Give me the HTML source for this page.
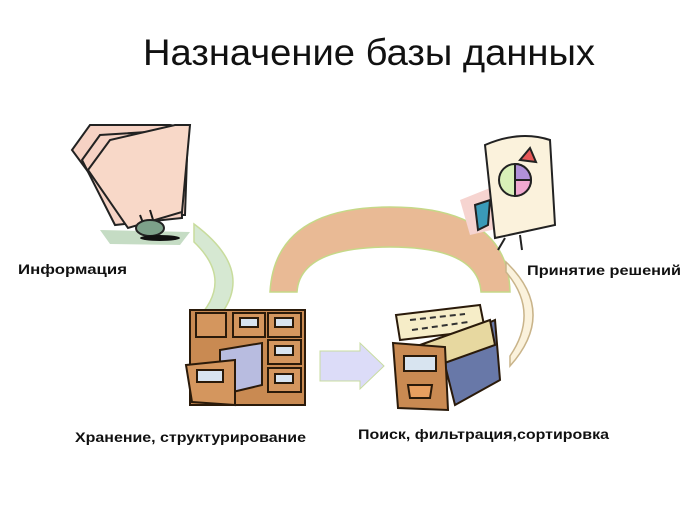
<!DOCTYPE html>
<html><head><meta charset="utf-8"><style>
body{margin:0;background:#fff;width:688px;height:516px;overflow:hidden}
svg{display:block}
text{font-family:"Liberation Sans","DejaVu Sans",sans-serif}
</style></head><body>
<svg width="688" height="516" viewBox="0 0 688 516">
<text x="369" y="65" font-size="37" text-anchor="middle" fill="#111" textLength="452" lengthAdjust="spacingAndGlyphs">Назначение базы данных</text>

<!-- folder clipart -->
<polygon points="100,230 190,232 180,245 110,244" fill="#c5dcc4"/>
<g stroke="#222" stroke-width="2">
<polygon points="72,150 90,125 170,125 188,128 185,215 120,215" fill="#f6d2c4"/>
<polygon points="82,160 100,135 180,130 182,218 115,225" fill="#f6d2c4"/>
<polygon points="88,170 110,140 175,125 190,125 182,212 128,228" fill="#f8d8c8"/>
<path d="M140,215 L148,236 M150,210 L158,236" stroke="#1a1a1a"/>
<ellipse cx="150" cy="228" rx="14" ry="8" fill="#7da18a"/>
</g>
<ellipse cx="160" cy="238" rx="20" ry="3" fill="#111"/>

<!-- green arc -->
<path d="M194,224 Q272,282 194,340 L194,322 Q236,282 194,242 Z" fill="#d6e8d2" stroke="#c8dc9c" stroke-width="1.5"/>

<!-- orange arch -->
<path d="M270,292 Q275,207 390,207 Q508,207 510,292 L481,292 Q478,247 390,247 Q300,247 297,292 Z" fill="#e9ba95" stroke="#c6d888" stroke-width="1.5"/>

<!-- right arc -->
<path d="M506,262 Q558,312 510,366 L510,356 Q540,312 506,272 Z" fill="#fbf2dc" stroke="#c9b48a" stroke-width="1.5"/>

<!-- blue arrow -->
<polygon points="320,351 360,351 360,343 384,366 360,389 360,381 320,381" fill="#dcdcf8" stroke="#c8dca0" stroke-width="1"/>

<!-- left cabinet -->
<g stroke="#2a1a0a" stroke-width="2">
<rect x="190" y="310" width="115" height="95" fill="#c98a52"/>
<rect x="196" y="313" width="30" height="24" fill="#d4965e"/>
<rect x="233" y="313" width="32" height="24" fill="#d4965e"/>
<rect x="268" y="313" width="33" height="24" fill="#d4965e"/>
<rect x="268" y="340" width="33" height="24" fill="#d4965e"/>
<rect x="268" y="368" width="33" height="24" fill="#d4965e"/>
<polygon points="220,350 262,343 262,385 220,395" fill="#b8bce0"/>
<polygon points="186,365 235,360 235,405 192,402" fill="#d4965e"/>
<rect x="197" y="370" width="26" height="12" fill="#d8e4f0"/>
<rect x="240" y="318" width="18" height="9" fill="#d8e4f0"/>
<rect x="275" y="318" width="18" height="9" fill="#d8e4f0"/>
<rect x="275" y="346" width="18" height="9" fill="#d8e4f0"/>
<rect x="275" y="374" width="18" height="9" fill="#d8e4f0"/>
</g>

<!-- right drawer -->
<g stroke="#2a1a0a" stroke-width="2">
<polygon points="396,315 480,305 485,330 400,340" fill="#f6edc8"/>
<polygon points="440,345 495,320 500,380 455,405" fill="#6878a8"/>
<polygon points="420,345 490,320 495,345 425,370" fill="#e7d8a0"/>
<polygon points="393,343 445,347 448,410 398,408" fill="#c98a52"/>
<rect x="404" y="356" width="32" height="15" fill="#d8e4f0"/>
<path d="M408,385 L432,385 L430,398 L410,398 Z" fill="#e8a060"/>
</g>
<g stroke="#333" stroke-width="2" stroke-dasharray="6,4"><line x1="410" y1="320" x2="465" y2="314"/><line x1="412" y1="330" x2="468" y2="322"/></g>

<!-- flipchart -->
<g stroke="#222" stroke-width="2">
<polygon points="460,200 490,188 500,228 470,235" fill="#f6d4d0" stroke="none"/>
<path d="M485,145 Q520,130 550,140 L555,225 L495,238 Z" fill="#fbf2dc"/>
<circle cx="515" cy="180" r="16" fill="#d8f0b8"/>
<path d="M515,180 L515,164 A16,16 0 0 1 531,180 Z" fill="#b090d8"/>
<path d="M515,180 L531,180 A16,16 0 0 1 515,196 Z" fill="#f0a8d0"/>
<path d="M520,160 L530,148 L536,162 Z" fill="#e85858"/>
<path d="M475,205 L490,200 L488,225 L478,230 Z" fill="#3a9ab8"/>
<line x1="505" y1="238" x2="498" y2="250"/><line x1="520" y1="235" x2="522" y2="250"/>
</g>

<g font-weight="bold" font-size="14" fill="#111">
<text x="18" y="274" textLength="109" lengthAdjust="spacingAndGlyphs">Информация</text>
<text x="527" y="275" textLength="154" lengthAdjust="spacingAndGlyphs">Принятие решений</text>
<text x="75" y="442" textLength="231" lengthAdjust="spacingAndGlyphs">Хранение, структурирование</text>
<text x="358" y="439" textLength="251" lengthAdjust="spacingAndGlyphs">Поиск, фильтрация,сортировка</text>
</g>
</svg>
</body></html>
